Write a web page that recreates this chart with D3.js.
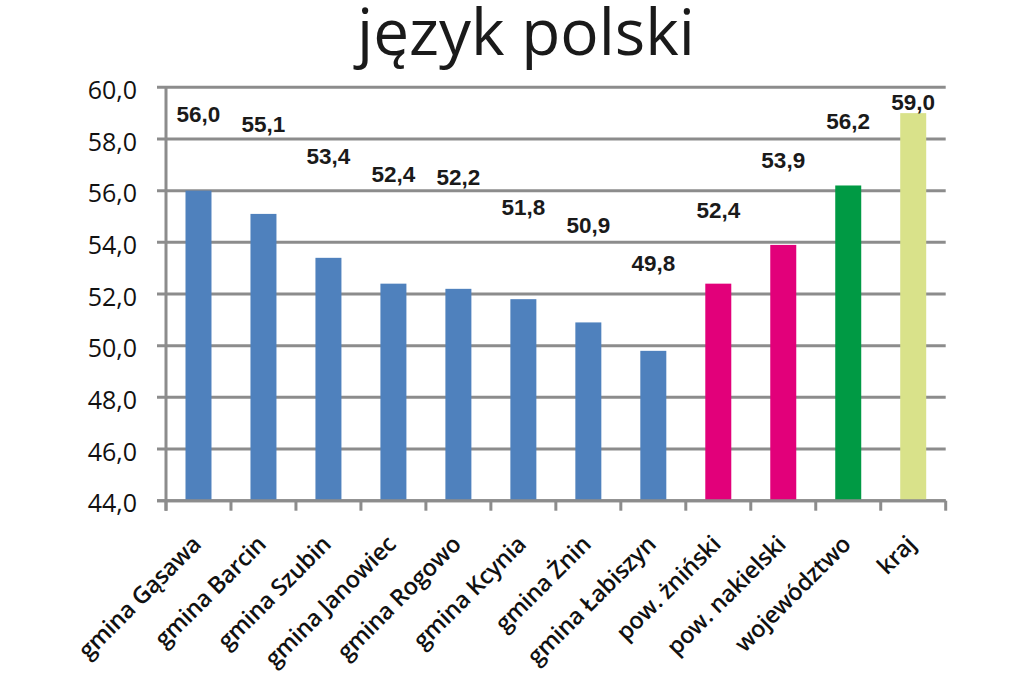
<!DOCTYPE html>
<html><head><meta charset="utf-8">
<script src="https://cdn.jsdelivr.net/npm/d3@7"></script>
<style>body{margin:0;background:#fff}svg{display:block}</style>
</head><body>
<svg id="c" width="1024" height="683"></svg>
<script>
const categories = ["gmina Gąsawa","gmina Barcin","gmina Szubin","gmina Janowiec","gmina Rogowo","gmina Kcynia","gmina Żnin","gmina Łabiszyn","pow. żniński","pow. nakielski","województwo","kraj"];
const values = [56.0, 55.1, 53.4, 52.4, 52.2, 51.8, 50.9, 49.8, 52.4, 53.9, 56.2, 59.0];
const groups = ["gmina","gmina","gmina","gmina","gmina","gmina","gmina","gmina","powiat","powiat","woj","kraj"];
const labelAnchor = [58.67, 58.28, 57.03, 56.35, 56.22, 55.06, 54.38, 52.89, 54.93, 56.86, 58.37, 59.12];
const yTicks = [44,46,48,50,52,54,56,58,60];
const title = "język polski";

const colors = {gmina:"#4F81BD", powiat:"#E2007A", woj:"#009A44", kraj:"#D9E28A"};
const svg = d3.select("#c");
const L = 166, R = 945.7, T = 87.3, B = 500.7;
const x = d3.scaleBand().domain(categories).range([L, R]).padding(0);
const y = d3.scaleLinear().domain([44, 60]).range([B, T]);
const fmt = v => d3.format(".1f")(v).replace(".", ",");
const gridCol = "#8C8C8C";

// gridlines
svg.append("g").selectAll("line").data(yTicks).join("line")
  .attr("x1", L - 9).attr("x2", R).attr("y1", d => y(d)).attr("y2", d => y(d))
  .attr("stroke", gridCol).attr("stroke-width", 3);

// y tick labels
svg.append("g").selectAll("text").data(yTicks).join("text")
  .attr("x", 137).attr("y", d => y(d)).attr("dy", "0.47em")
  .attr("text-anchor", "end")
  .style("font-family", "'Open Sans', sans-serif").style("font-size", "25px").attr("fill", "#111")
  .text(fmt);

// bars
const bw = x.step() * 0.4;
svg.append("g").selectAll("rect").data(values).join("rect")
  .attr("x", (d, i) => x(categories[i]) + x.step() / 2 - bw / 2)
  .attr("width", bw)
  .attr("y", d => y(d))
  .attr("height", d => y(44) - y(d))
  .attr("fill", (d, i) => colors[groups[i]]);

// axes lines
svg.append("line").attr("x1", L).attr("x2", L).attr("y1", T).attr("y2", B + 10)
  .attr("stroke", gridCol).attr("stroke-width", 3);
svg.append("line").attr("x1", L - 9).attr("x2", R).attr("y1", B).attr("y2", B)
  .attr("stroke", gridCol).attr("stroke-width", 3);
const tickXs = categories.map(c => x(c)).concat([R]);
svg.append("g").selectAll("line").data(tickXs).join("line")
  .attr("x1", d => d).attr("x2", d => d).attr("y1", B).attr("y2", B + 10)
  .attr("stroke", gridCol).attr("stroke-width", 3);

// value labels
svg.append("g").selectAll("text").data(values).join("text")
  .attr("x", (d, i) => x(categories[i]) + x.step() / 2)
  .attr("y", (d, i) => y(labelAnchor[i]))
  .attr("text-anchor", "middle")
  .style("font-family", "'Liberation Sans', Arial, sans-serif").style("font-weight", "bold")
  .style("font-size", "22.5px").attr("fill", "#1a1a1a")
  .text(fmt);

// category labels
svg.append("g").selectAll("text").data(categories).join("text")
  .attr("transform", d => `translate(${x(d) + x.step() / 2 + 4},${B + 45}) rotate(-45)`)
  .attr("text-anchor", "end")
  .style("font-family", "'Open Sans', sans-serif").style("font-size", "23.5px").style("font-weight", "600")
  .style("letter-spacing", "-0.3px")
  .attr("fill", "#111")
  .text(d => d);

// title
const t = svg.append("text").attr("x", 526).attr("y", 55).attr("text-anchor", "middle")
  .style("font-family", "'Open Sans', sans-serif").style("font-size", "60px").attr("fill", "#1a1a1a")
  .text(title);
const w = t.node().getComputedTextLength();
t.style("font-size", (60 * 338 / w) + "px");
</script>
</body></html>
